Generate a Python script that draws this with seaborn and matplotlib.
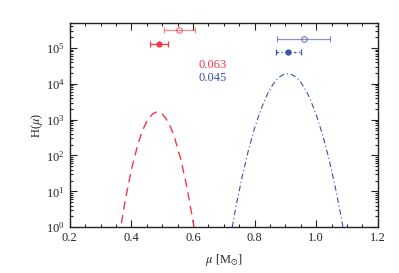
import numpy as np
import pandas as pd
import seaborn as sns
import matplotlib.pyplot as plt
from matplotlib.ticker import LogLocator, MultipleLocator, NullFormatter

# curves
mu_red = [0.36, 0.38, 0.40, 0.42, 0.43, 0.44, 0.45, 0.46, 0.47, 0.48, 0.49, 0.50,
          0.51, 0.52, 0.53, 0.54, 0.56, 0.58, 0.60, 0.62]
h_red = [0.53, 5.7, 40.7, 191, 354, 590, 887, 1200, 1460, 1610, 1590, 1420,
         1140, 824, 537, 315, 79.6, 13.2, 1.45, 0.104]
mu_blue = [0.72, 0.74, 0.76, 0.78, 0.80, 0.82, 0.84, 0.85, 0.86, 0.87, 0.88, 0.89,
           0.90, 0.91, 0.92, 0.93, 0.94, 0.95, 0.96, 0.97, 0.98, 1.00, 1.02, 1.04,
           1.06, 1.08, 1.10]
h_blue = [0.46, 3.97, 26.8, 142, 587, 1910, 4870, 7100, 9730, 12600, 15300, 17500,
          18800, 19000, 18100, 16200, 13700, 10900, 8110, 5700, 3770, 1370, 393, 88,
          15.5, 2.13, 0.23]

# points with error bars
pt_x = [0.556, 0.489, 0.959, 0.909]
pt_y = [3.1e5, 1.27e5, 1.8e5, 7.6e4]
pt_err = [0.05, 0.03, 0.086, 0.04]
pt_filled = [False, True, False, True]

labels = ['0.063', '0.045']

red = '#f03848'
blue = '#3a50a8'

sns.set_style('ticks')
plt.rcParams['font.family'] = ['Liberation Serif', 'DejaVu Serif']
plt.rcParams['mathtext.fontset'] = 'stix'

fig = plt.figure(figsize=(3.99, 2.73), dpi=100)
ax = fig.add_axes([0.175, 0.168, 0.772, 0.748])

df_red = pd.DataFrame({'mu': mu_red, 'H': h_red})
df_blue = pd.DataFrame({'mu': mu_blue, 'H': h_blue})
sns.lineplot(data=df_red, x='mu', y='H', ax=ax, color=red, lw=1.0,
             linestyle=(0, (6, 4)))
sns.lineplot(data=df_blue, x='mu', y='H', ax=ax, color=blue, lw=0.8,
             linestyle=(0, (5, 2.5, 1, 2.5)))

cols = [red, red, blue, blue]
for x, y, e, f, c in zip(pt_x, pt_y, pt_err, pt_filled, cols):
    if f:
        ls = '-' if c == red else (0, (2, 2, 1, 2))
        eb = ax.errorbar(x, y, xerr=e, fmt='o', color=c, ms=3.5, capsize=2, lw=0.9,
                         capthick=0.9)
        eb[2][0].set_linestyle(ls)
    else:
        ax.errorbar(x, y, xerr=e, fmt='o', mfc='none', mec=c, color=c, ms=4,
                    capsize=2, lw=0.9, capthick=0.9, alpha=0.6)

ax.text(0.619, 3.3e4, labels[0], color=red, fontsize=9, va='center')
ax.text(0.619, 1.44e4, labels[1], color=blue, fontsize=9, va='center')

ax.set_yscale('log')
ax.set_xlim(0.2, 1.2)
ax.set_ylim(1, 5e5)
ax.xaxis.set_major_locator(MultipleLocator(0.2))
ax.xaxis.set_minor_locator(MultipleLocator(0.05))
ax.yaxis.set_major_locator(LogLocator(base=10, numticks=10))
ax.yaxis.set_minor_locator(LogLocator(base=10, subs=np.arange(2, 10), numticks=20))
ax.yaxis.set_minor_formatter(NullFormatter())
ax.set_xticklabels(['%.1f' % v for v in ax.get_xticks()])
ax.tick_params(which='both', direction='in', top=True, right=True, labelsize=9,
               width=0.8, color='#222222')
ax.tick_params(which='major', length=5)
ax.tick_params(which='minor', length=2.5)
for s in ax.spines.values():
    s.set_linewidth(1.0)
    s.set_color('#222222')

ax.set_xlabel(r'$\mu$ [M$_{\odot}$]', fontsize=9, labelpad=6)
ax.set_ylabel(r'H($\mu$)', fontsize=9, labelpad=1)

fig.savefig('out.png', dpi=100)
